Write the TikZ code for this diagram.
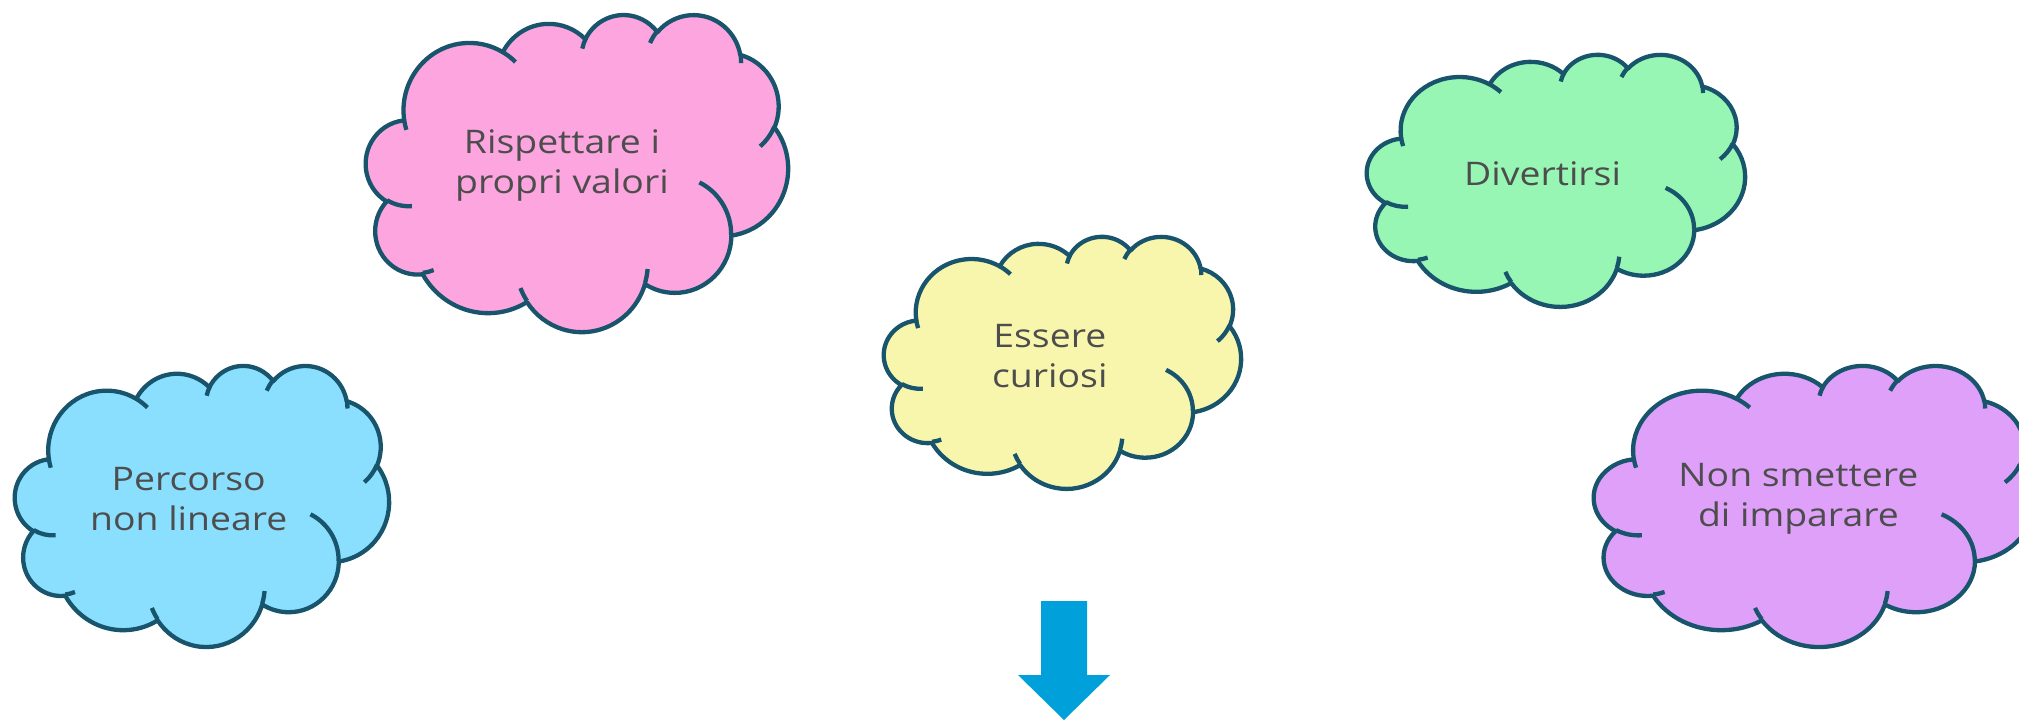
\documentclass[tikz,border=0pt]{standalone}
\usepackage{fontspec}
\setmainfont{Open Sans}[FakeStretch=1.15]
\definecolor{cstroke}{HTML}{18546C}
\definecolor{ctext}{HTML}{4D4D4D}
\definecolor{cpink}{HTML}{FCA5DE}
\definecolor{cyellow}{HTML}{F8F6AC}
\definecolor{cgreen}{HTML}{98F6B4}
\definecolor{cblue}{HTML}{8ADFFE}
\definecolor{cpurple}{HTML}{DFA0FA}
\definecolor{carrow}{HTML}{00A0DA}
\tikzset{
  cloudline/.style={draw=cstroke, line width=4.3pt, line join=round},
  cloudinner/.style={draw=cstroke, line width=4.3pt},
  cloudtext/.style={text=ctext, align=center, font=\fontsize{32.5}{40}\selectfont, inner sep=0pt},
}
\newcommand\drawcloud[7]{%
  \def\cL{#2}\def\cT{#3}\def\cW{#4}\def\cH{#5}%
  \draw[cloudline, fill=#6] ({\cL+0.090278*\cW},{-\cT-0.332639*\cH})
    arc[start angle={-pa(0.156319,0.212731,-190.48748)}, delta angle={-pd(0.156319,0.212731,-190.48748,123.78053)}, x radius={0.156319*\cW}, y radius={0.212731*\cH}]
    arc[start angle={-pa(0.123449,0.168218,-144.10238)}, delta angle={-pd(0.123449,0.168218,-144.10238,89.94523)}, x radius={0.123449*\cW}, y radius={0.168218*\cH}]
    arc[start angle={-pa(0.101042,0.137616,-145.80792)}, delta angle={-pd(0.101042,0.137616,-145.80792,99.72302)}, x radius={0.101042*\cW}, y radius={0.137616*\cH}]
    arc[start angle={-pa(0.112431,0.152662,-130.98607)}, delta angle={-pd(0.112431,0.152662,-130.98607,117.24173)}, x radius={0.112431*\cW}, y radius={0.152662*\cH}]
    arc[start angle={-pa(0.123449,0.168356,-78.70888)}, delta angle={-pd(0.123449,0.168356,-78.70888,109.02692)}, x radius={0.123449*\cW}, y radius={0.168356*\cH}]
    arc[start angle={-pa(0.156829,0.213426,-46.26725)}, delta angle={-pd(0.156829,0.213426,-46.26725,130.26900)}, x radius={0.156829*\cW}, y radius={0.213426*\cH}]
    arc[start angle={-pa(0.133912,0.182106,0.62502)}, delta angle={-pd(0.133912,0.182106,0.62502,114.03333)}, x radius={0.133912*\cW}, y radius={0.182106*\cH}]
    arc[start angle={-pa(0.156296,0.213310,22.45160)}, delta angle={-pd(0.156296,0.213310,22.45160,115.17255)}, x radius={0.156296*\cW}, y radius={0.213310*\cH}]
    arc[start angle={-pa(0.178704,0.244051,66.24263)}, delta angle={-pd(0.178704,0.244051,66.24263,75.71102)}, x radius={0.178704*\cW}, y radius={0.244051*\cH}]
    arc[start angle={-pa(0.100926,0.136991,-274.94208)}, delta angle={-pd(0.100926,0.136991,-274.94208,146.73557)}, x radius={0.100926*\cW}, y radius={0.136991*\cH}]
    arc[start angle={-pa(0.100579,0.137616,-246.82850)}, delta angle={-pd(0.100579,0.137616,-246.82850,152.51885)}, x radius={0.100579*\cW}, y radius={0.137616*\cH}]
    -- cycle;
  \draw[cloudinner]
    ({\cL+0.108634*\cW},{-\cT-0.605949*\cH})
    arc[start angle={-pa(0.100579,0.137616,86.74200)}, delta angle={-pd(0.100579,0.137616,86.74200,26.42950)}, x radius={0.100579*\cW}, y radius={0.137616*\cH}]
    ({\cL+0.160370*\cW},{-\cT-0.807847*\cH})
    arc[start angle={-pa(0.100926,0.136991,73.61047)}, delta angle={-pd(0.100926,0.136991,73.61047,11.44747)}, x radius={0.100926*\cW}, y radius={0.136991*\cH}]
    ({\cL+0.381435*\cW},{-\cT-0.904861*\cH})
    arc[start angle={-pa(0.156296,0.213310,137.62415)}, delta angle={-pd(0.156296,0.213310,137.62415,14.08110)}, x radius={0.156296*\cW}, y radius={0.213310*\cH}]
    ({\cL+0.667292*\cW},{-\cT-0.804421*\cH})
    arc[start angle={-pa(0.156296,0.213310,6.45327)}, delta angle={-pd(0.156296,0.213310,6.45327,15.99835)}, x radius={0.156296*\cW}, y radius={0.213310*\cH}]
    ({\cL+0.790023*\cW},{-\cT-0.531343*\cH})
    arc[start angle={-pa(0.133912,0.182106,-70.29235)}, delta angle={-pd(0.133912,0.182106,-70.29235,70.91737)}, x radius={0.133912*\cW}, y radius={0.182106*\cH}]
    ({\cL+0.967546*\cW},{-\cT-0.355417*\cH})
    arc[start angle={-pa(0.123449,0.168356,30.31803)}, delta angle={-pd(0.123449,0.168356,30.31803,27.75150)}, x radius={0.123449*\cW}, y radius={0.168356*\cH}]
    ({\cL+0.887130*\cW},{-\cT-0.125602*\cH})
    arc[start angle={-pa(0.112431,0.152662,-13.74433)}, delta angle={-pd(0.112431,0.152662,-13.74433,14.85890)}, x radius={0.112431*\cW}, y radius={0.152662*\cH}]
    ({\cL+0.673102*\cW},{-\cT-0.091481*\cH})
    arc[start angle={-pa(0.112431,0.152662,-149.18145)}, delta angle={-pd(0.112431,0.152662,-149.18145,18.19537)}, x radius={0.112431*\cW}, y radius={0.152662*\cH}]
    ({\cL+0.512523*\cW},{-\cT-0.109259*\cH})
    arc[start angle={-pa(0.101042,0.137616,-163.49427)}, delta angle={-pd(0.101042,0.137616,-163.49427,17.68635)}, x radius={0.101042*\cW}, y radius={0.137616*\cH}]
    ({\cL+0.324074*\cW},{-\cT-0.120185*\cH})
    arc[start angle={-pa(0.156319,0.212731,-66.70695)}, delta angle={-pd(0.156319,0.212731,-66.70695,12.31935)}, x radius={0.156319*\cW}, y radius={0.212731*\cH}]
    ({\cL+0.095532*\cW},{-\cT-0.365486*\cH})
    arc[start angle={-pa(0.156319,0.212731,157.65435)}, delta angle={-pd(0.156319,0.212731,157.65435,11.85817)}, x radius={0.156319*\cW}, y radius={0.212731*\cH}];
  \node[cloudtext] (#1) at ({\cL+0.4645*\cW},{-\cT-0.4768*\cH}) {#7};
}
\begin{document}
\begin{tikzpicture}[x=1pt, y=1pt,
  declare function={
    pa(\xr,\yr,\sa)=atan2(\xr*sin(\sa),\yr*cos(\sa));
    pd(\wq,\hq,\aq,\sq)=mod(pa(\wq,\hq,\aq+\sq)-pa(\wq,\hq,\aq)+720,360);
  }]
  \useasboundingbox (0,0) rectangle (2019,-720);
  \clip (0,0) rectangle (2019,-720);
  \drawcloud{pink}{366}{14}{422}{317}{cpink}{Rispettare i\\propri valori}
  \drawcloud{yellow}{884}{236}{357}{252}{cyellow}{Essere\\curiosi}
  \drawcloud{green}{1367}{54}{378}{252}{cgreen}{Divertirsi}
  \drawcloud{blue}{15}{365}{374}{281}{cblue}{Percorso\\non lineare}
  \drawcloud{purple}{1594}{365}{440}{281}{cpurple}{Non smettere\\di imparare}
  \fill[carrow] (1041,-601) -- (1087,-601) -- (1087,-675) -- (1110,-675)
    -- (1064,-720) -- (1018,-675) -- (1041,-675) -- cycle;
\end{tikzpicture}
\end{document}
